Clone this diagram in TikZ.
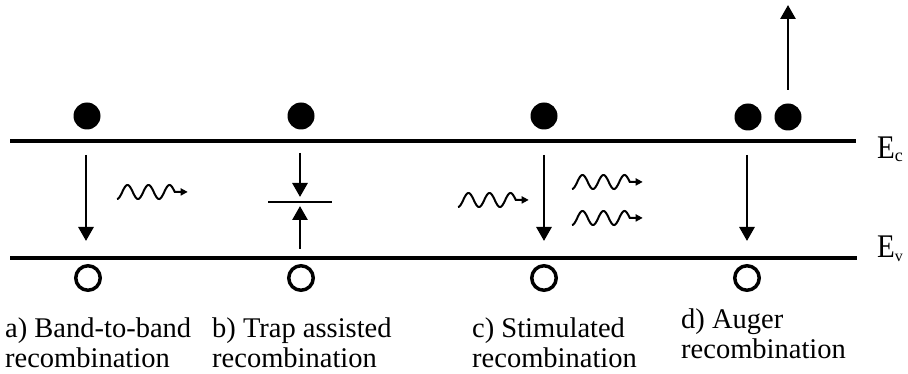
\documentclass[tikz,border=0pt]{standalone}
\usepackage{fontspec}
\setmainfont{Liberation Serif}
\usetikzlibrary{arrows.meta}
\begin{document}
\begin{tikzpicture}[x=1pt,y=-1pt,
  band/.style={line width=4pt},
  elec/.style={circle,fill=black,inner sep=0pt,minimum size=27pt},
  hole/.style={circle,draw=black,line width=3.5pt,inner sep=0pt,minimum size=24.5pt},
  trans/.style={line width=2.8pt,-{Triangle[width=15pt,length=14pt]}},
  phot/.style={line width=2pt,-{Triangle[width=7pt,length=7pt]}},
  lbl/.style={anchor=base west,inner sep=0pt,font=\fontsize{28.5}{32}\selectfont},
  lev/.style={anchor=base west,inner sep=0pt},
  photon/.pic={\draw[phot] plot[domain=0:2.75,samples=90,smooth] ({\x*21},{7*cos(360*\x)}) -- ++(13,0);}
]
\useasboundingbox (0,0) rectangle (908,374);
% bands
\coordinate (ecl) at (10,141); \coordinate (ecr) at (856,141);
\coordinate (evl) at (10,258); \coordinate (evr) at (857,258);
\draw[band] (ecl) -- (ecr);
\draw[band] (evl) -- (evr);
\node[lev] (Ec) at (877,159) {\fontsize{33}{36}\selectfont\scalebox{0.88}[1]{E}\raisebox{-3pt}{\fontsize{18}{20}\selectfont c}};
\node[lev] (Ev) at (877,258) {\fontsize{33}{36}\selectfont\scalebox{0.88}[1]{E}\raisebox{-4pt}{\fontsize{16}{18}\selectfont v}};
% a) band-to-band
\node[elec] (ea) at (87,116) {};
\node[hole] (ha) at (88,278) {};
\coordinate (a1) at (86,155); \coordinate (a2) at (86,241);
\draw[trans] (a1) -- (a2);
\pic at (117,192) {photon};
% b) trap assisted
\node[elec] (eb) at (301,116) {};
\node[hole] (hb) at (301,278) {};
\coordinate (tl) at (268,202); \coordinate (tr) at (332,202);
\draw[line width=2.6pt] (tl) -- (tr);
\coordinate (b1) at (300,153); \coordinate (b2) at (300,197);
\coordinate (b3) at (300,249); \coordinate (b4) at (300,206);
\draw[trans] (b1) -- (b2);
\draw[trans] (b3) -- (b4);
% c) stimulated
\node[elec] (ec) at (544,116) {};
\node[hole] (hc) at (544,278) {};
\coordinate (c1) at (544,155); \coordinate (c2) at (544,241);
\draw[trans] (c1) -- (c2);
\pic at (458,200) {photon};
\pic at (572,182) {photon};
\pic at (572,218) {photon};
% d) Auger
\node[elec] (ed1) at (748,117) {};
\node[elec] (ed2) at (788,117) {};
\node[hole] (hd) at (747,278) {};
\coordinate (d1) at (747,155); \coordinate (d2) at (747,241);
\draw[trans] (d1) -- (d2);
\coordinate (d3) at (788,90); \coordinate (d4) at (788,5);
\draw[trans] (d3) -- (d4);
% labels
\node[lbl] (la1) at (5,337) {a) Band-to-band};
\node[lbl] (la2) at (5,367) {recombination};
\node[lbl] (lb1) at (212,337) {b) Trap assisted};
\node[lbl] (lb2) at (212,367) {recombination};
\node[lbl] (lc1) at (472,337) {c) Stimulated};
\node[lbl] (lc2) at (472,367) {recombination};
\node[lbl] (ld1) at (681,328) {d) Auger};
\node[lbl] (ld2) at (681,358) {recombination};
\end{tikzpicture}
\end{document}
